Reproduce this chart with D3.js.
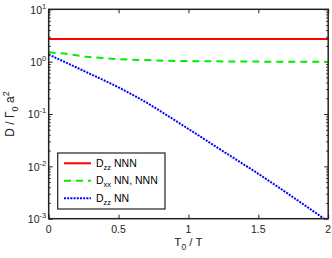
<!DOCTYPE html>
<html>
<head>
<meta charset="utf-8">
<script src="https://cdn.jsdelivr.net/npm/d3@7"></script>
<style>
  body { margin: 0; background: #fff; }
  svg { display: block; font-family: "Liberation Sans", Arial, sans-serif; }
</style>
</head>
<body>
<svg id="chart"></svg>
<script>
// data
const xTicks = [0, 0.5, 1, 1.5, 2];
const xTickLabels = ["0", "0.5", "1", "1.5", "2"];
const yExponents = [1, 0, -1, -2, -3];

const redX = [0, 2];
const redY = [2.7, 2.7];

const greenX = [0, 0.16, 0.27, 0.38, 0.49, 0.69, 0.92, 1.3, 2];
const greenY = [1.51, 1.37, 1.24, 1.18, 1.12, 1.07, 1.03, 1.01, 0.99];

const blueX = [0, 0.27, 0.53, 0.65, 0.94, 1.22, 1.5, 2];
const blueY = [1.37, 0.63, 0.293, 0.197, 0.0655, 0.0217, 0.0072, 0.00088];

const legendMain = ["D", "D", "D"];
const legendSub = ["zz", "xx", "zz"];
const legendRest = [" NNN", " NN, NNN", " NN"];

const margin = { top: 9.3, right: 3.8, bottom: 39.3, left: 48.7 };
const width = 332 - margin.left - margin.right;
const height = 258 - margin.top - margin.bottom;
const axisColor = "#222";

const svg = d3.select("#chart").attr("width", 332).attr("height", 258);
const g = svg.append("g").attr("transform", `translate(${margin.left},${margin.top})`);

const x = d3.scaleLinear().domain([0, 2]).range([0, width]);
const y = d3.scaleLog().domain([1e-3, 10]).range([height, 0]);

g.append("clipPath").attr("id", "clip")
  .append("rect").attr("width", width).attr("height", height);

// minor log ticks
const minorTicks = [];
yExponents.slice(1).forEach(e => {
  for (let k = 2; k <= 9; k++) minorTicks.push(k * Math.pow(10, e));
});

const majorY = yExponents.map(e => Math.pow(10, e));

function styleAxis(sel) {
  sel.select(".domain").remove();
  sel.selectAll("line").attr("stroke", axisColor).attr("stroke-width", 1);
}

// bottom / top ticks (inward)
g.append("g").attr("transform", `translate(0,${height})`)
  .call(d3.axisBottom(x).tickValues(xTicks).tickSize(-4).tickFormat(""))
  .call(styleAxis);
g.append("g")
  .call(d3.axisTop(x).tickValues(xTicks).tickSize(-4).tickFormat(""))
  .call(styleAxis);

// left / right ticks
g.append("g").call(d3.axisLeft(y).tickValues(majorY).tickSize(-4).tickFormat("")).call(styleAxis);
g.append("g").call(d3.axisLeft(y).tickValues(minorTicks).tickSize(-2).tickFormat("")).call(styleAxis);
g.append("g").attr("transform", `translate(${width},0)`)
  .call(d3.axisRight(y).tickValues(majorY).tickSize(-4).tickFormat("")).call(styleAxis);
g.append("g").attr("transform", `translate(${width},0)`)
  .call(d3.axisRight(y).tickValues(minorTicks).tickSize(-2).tickFormat("")).call(styleAxis);

// x tick labels
g.selectAll("text.xlab")
  .data(xTicks)
  .join("text")
  .attr("class", "xlab")
  .attr("x", d => x(d))
  .attr("y", height + 14)
  .attr("text-anchor", "middle")
  .attr("font-size", "10.5px")
  .attr("fill", axisColor)
  .text((d, i) => xTickLabels[i]);

// y tick labels 10^n
const ylab = g.selectAll("text.ylab")
  .data(yExponents)
  .join("text")
  .attr("class", "ylab")
  .attr("x", -2.5)
  .attr("y", d => y(Math.pow(10, d)) + 4.5)
  .attr("text-anchor", "end")
  .attr("font-size", "10.5px")
  .attr("fill", axisColor);
ylab.append("tspan").text("10");
ylab.append("tspan").attr("dy", -5).attr("font-size", "7.5px").text(d => d);

// lines
const line = d3.line()
  .x(d => x(d[0]))
  .y(d => y(d[1]))
  .curve(d3.curveMonotoneX);

const series = [
  { xs: redX, ys: redY, color: "#ff0000", dash: null },
  { xs: greenX, ys: greenY, color: "#00ee00", dash: "7,5" },
  { xs: blueX, ys: blueY, color: "#0000ff", dash: "2,1.2" }
];

g.append("g").attr("clip-path", "url(#clip)")
  .selectAll("path")
  .data(series)
  .join("path")
  .attr("fill", "none")
  .attr("stroke", d => d.color)
  .attr("stroke-width", 2)
  .attr("stroke-dasharray", d => d.dash)
  .attr("d", d => line(d.xs.map((v, i) => [v, d.ys[i]])));

// frame
g.append("rect")
  .attr("width", width)
  .attr("height", height)
  .attr("fill", "none")
  .attr("stroke", axisColor)
  .attr("stroke-width", 1.5);

// legend
const legend = svg.append("g");
legend.append("rect")
  .attr("x", 57.7).attr("y", 153)
  .attr("width", 107.3).attr("height", 56)
  .attr("fill", "#fff")
  .attr("stroke", axisColor)
  .attr("stroke-width", 1.2);

const entryY = [163.3, 180.7, 198.3];
const entries = legend.selectAll("g.entry")
  .data(series)
  .join("g")
  .attr("class", "entry")
  .attr("transform", (d, i) => `translate(0,${entryY[i]})`);

entries.append("line")
  .attr("x1", 64).attr("x2", 91)
  .attr("stroke", d => d.color)
  .attr("stroke-width", 2)
  .attr("stroke-dasharray", d => d.dash);

const etext = entries.append("text")
  .attr("x", 96)
  .attr("y", 3.5)
  .attr("font-size", "10.5px")
  .attr("fill", "#000");
etext.append("tspan").text((d, i) => legendMain[i]);
etext.append("tspan").attr("dy", 3).attr("font-size", "7.5px").text((d, i) => legendSub[i]);
etext.append("tspan").attr("dy", -3).text((d, i) => legendRest[i]);

// axis titles
const xt = svg.append("text")
  .attr("x", margin.left + width / 2)
  .attr("y", 246)
  .attr("text-anchor", "middle")
  .attr("font-size", "11.5px")
  .attr("fill", axisColor);
xt.append("tspan").text("T");
xt.append("tspan").attr("dy", 4).attr("font-size", "8.5px").text("0");
xt.append("tspan").attr("dy", -4).text(" / T");

const yt = svg.append("text")
  .attr("transform", `translate(14,${margin.top + height / 2}) rotate(-90)`)
  .attr("text-anchor", "middle")
  .attr("font-size", "12px")
  .attr("fill", axisColor);
yt.append("tspan").text("D / Γ");
yt.append("tspan").attr("dy", 4).attr("font-size", "9px").text("0");
yt.append("tspan").attr("dy", -4).text(" a");
yt.append("tspan").attr("dy", -5).attr("font-size", "9px").text("2");
</script>
</body>
</html>
